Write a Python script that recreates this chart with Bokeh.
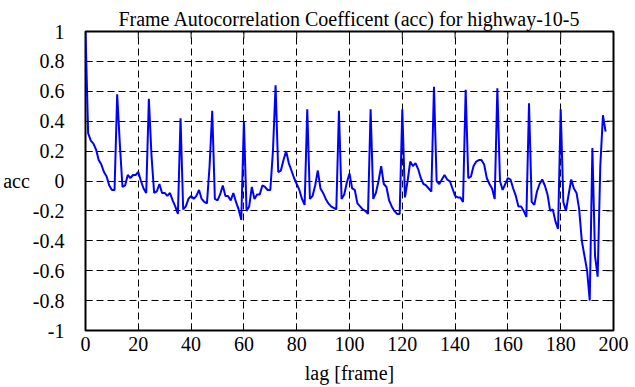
import math
from bokeh.plotting import figure
from bokeh.models import Range1d, FixedTicker, CustomJSTickFormatter
from bokeh.embed import file_html
from bokeh.resources import INLINE

lags = list(range(198))
acc = [
    1.00, 0.32, 0.27, 0.25, 0.21, 0.14, 0.11, 0.06, 0.03, -0.03,   # 0-9
    -0.06, -0.06, 0.58, 0.25, -0.04, -0.03, 0.04, 0.02, 0.04, 0.04,  # 10-19
    0.06, 0.00, -0.05, -0.08, 0.55, 0.17, -0.08, -0.07, -0.02, -0.08,  # 20-29
    -0.08, -0.10, -0.08, -0.13, -0.17, -0.22, 0.42, -0.19, -0.17, -0.12,  # 30-39
    -0.10, -0.12, -0.10, -0.06, -0.12, -0.14, -0.15, 0.10, 0.47, -0.12,  # 40-49
    -0.13, -0.09, -0.03, -0.10, -0.10, -0.13, -0.08, -0.14, -0.19, -0.26,  # 50-59
    0.40, -0.20, -0.17, -0.04, -0.12, -0.09, -0.09, -0.03, -0.04, -0.06,  # 60-69
    -0.06, 0.20, 0.64, 0.06, 0.07, 0.14, 0.20, 0.12, 0.07, 0.02,  # 70-79
    -0.02, -0.06, -0.12, -0.16, 0.48, -0.12, -0.10, -0.03, 0.07, -0.05,  # 80-89
    -0.08, -0.12, -0.15, -0.17, -0.18, -0.19, 0.47, -0.12, -0.09, -0.01,  # 90-99
    0.05, -0.05, -0.06, -0.15, -0.17, -0.19, -0.20, -0.22, 0.48, -0.12,  # 100-109
    -0.08, 0.00, 0.10, -0.02, -0.04, -0.13, -0.17, -0.20, -0.22, -0.22,  # 110-119
    0.48, -0.11, 0.00, 0.13, 0.10, 0.12, 0.08, 0.02, -0.02, -0.03,  # 120-129
    -0.05, -0.07, 0.63, 0.00, -0.02, 0.01, 0.04, 0.01, 0.00, -0.05,  # 130-139
    -0.10, -0.11, -0.11, -0.14, 0.61, 0.02, 0.03, 0.10, 0.13, 0.14,  # 140-149
    0.14, 0.11, 0.02, -0.02, -0.05, -0.12, 0.62, 0.00, -0.06, -0.02,  # 150-159
    0.02, 0.01, -0.05, -0.10, -0.17, -0.17, -0.20, -0.24, 0.52, -0.14,  # 160-169
    -0.16, -0.07, -0.02, 0.01, -0.03, -0.09, -0.20, -0.19, -0.27, -0.32,  # 170-179
    0.48, -0.14, -0.20, -0.09, 0.01, -0.05, -0.08, -0.19, -0.40, -0.50,  # 180-189
    -0.60, -0.80, 0.22, -0.50, -0.64, 0.10, 0.44, 0.33,  # 190-197
]

x_ticks = [0, 20, 40, 60, 80, 100, 120, 140, 160, 180, 200]
y_ticks = [-1.0, -0.8, -0.6, -0.4, -0.2, 0.0, 0.2, 0.4, 0.6, 0.8, 1.0]

title_text = "Frame Autocorrelation Coefficent (acc) for highway-10-5"
x_label = "lag [frame]"
y_label = "acc"

FONT = "Liberation Serif, serif"
FS = "20px"

X0, X1 = x_ticks[0], x_ticks[-1]
Y0, Y1 = y_ticks[0], y_ticks[-1]

p = figure(width=635, height=387, output_backend="svg", toolbar_location=None,
           x_range=Range1d(X0, X1), y_range=Range1d(Y0, Y1),
           min_border_left=85, min_border_right=22, min_border_top=31,
           min_border_bottom=57, background_fill_color="white",
           border_fill_color="white")

p.title.text = title_text
p.title.align = "center"
p.title.vertical_align = "top"
p.title.text_font = FONT
p.title.text_font_style = "normal"
p.title.text_font_size = FS
p.title.text_color = "black"
p.title.standoff = 0

p.line(lags, acc, line_color="#0000ff", line_width=2)

fmt = CustomJSTickFormatter(code="""
const v = Math.round(tick*10)/10;
if (Math.abs(v) < 1e-9) return "0";
return String(v);
""")

p.xaxis.ticker = FixedTicker(ticks=x_ticks)
p.yaxis.ticker = FixedTicker(ticks=y_ticks)
p.yaxis.formatter = fmt

for axs in (p.xaxis, p.yaxis):
    axs.major_label_text_font = FONT
    axs.major_label_text_font_size = FS
    axs.major_label_text_font_style = "normal"
    axs.major_label_text_color = "black"
    axs.axis_label_text_font = FONT
    axs.axis_label_text_font_size = FS
    axs.axis_label_text_font_style = "normal"
    axs.axis_label_text_color = "black"
    axs.major_tick_in = 7
    axs.major_tick_out = 0
    axs.minor_tick_in = 0
    axs.minor_tick_out = 0
    axs.major_tick_line_color = "black"
    axs.major_tick_line_width = 1
    axs.axis_line_color = None

p.xaxis.axis_label = x_label
p.xaxis.major_label_standoff = 6
p.xaxis.axis_label_standoff = 8
p.yaxis.axis_label = y_label
p.yaxis.axis_label_orientation = "horizontal"
p.yaxis.major_label_standoff = 21
p.yaxis.axis_label_standoff = 0

# mirrored inward tick marks on the top and right borders (outer half clipped)
p.scatter(x=x_ticks, y=[Y1] * len(x_ticks), marker="dash", size=14,
          angle=math.pi / 2, line_color="black", line_width=1)
p.scatter(x=[X1] * len(y_ticks), y=y_ticks, marker="dash", size=14,
          angle=0, line_color="black", line_width=1)

p.grid.grid_line_color = "black"
p.grid.grid_line_dash = "7 4"
p.grid.grid_line_width = 1
p.xgrid.ticker = FixedTicker(ticks=x_ticks[1:-1])
p.ygrid.ticker = FixedTicker(ticks=y_ticks[1:-1])

p.outline_line_color = "black"
p.outline_line_width = 2
p.outline_line_alpha = 1

open("out.html", "w").write(file_html(p, INLINE))
